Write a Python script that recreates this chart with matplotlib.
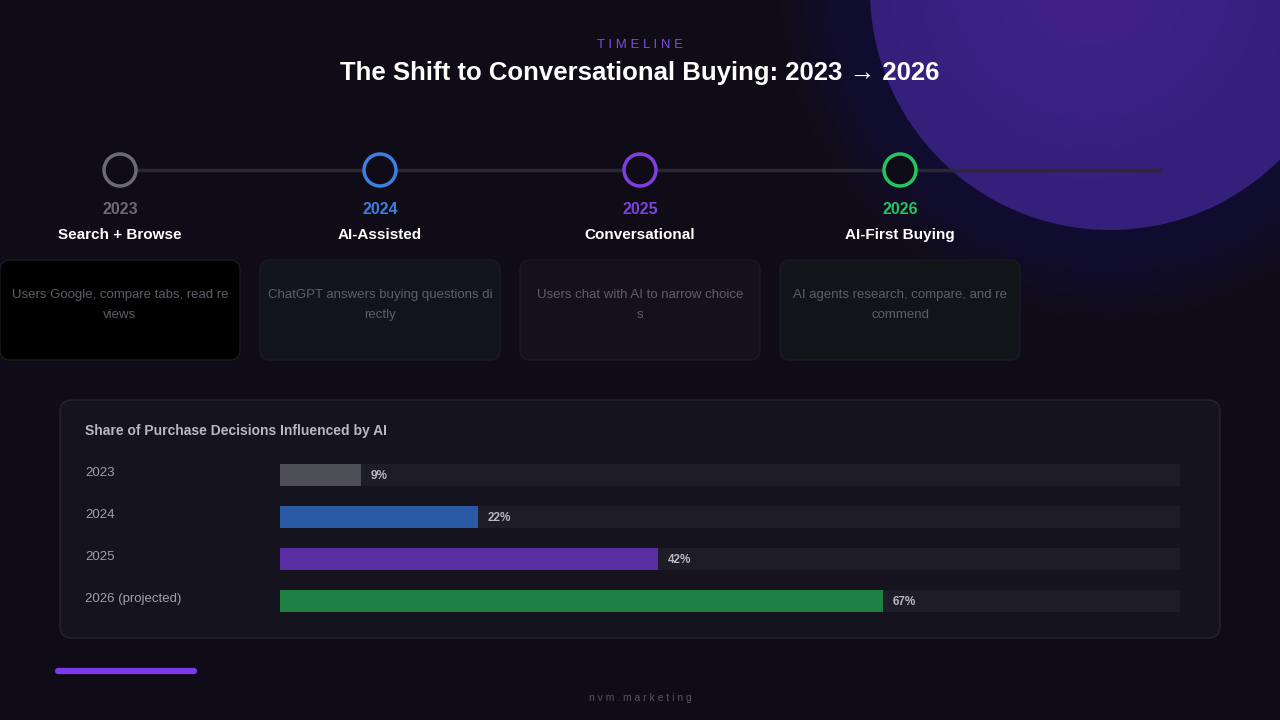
import matplotlib
matplotlib.use("Agg")
import matplotlib.pyplot as plt
from matplotlib.patches import FancyBboxPatch, Circle
import numpy as np

plt.rcParams['font.family'] = ['Liberation Sans', 'DejaVu Sans']

years = ["2023", "2024", "2025", "2026"]
stages = ["Search + Browse", "AI-Assisted", "Conversational", "AI-First Buying"]
descs = ["Users Google, compare tabs, read re\nviews",
         "ChatGPT answers buying questions di\nrectly",
         "Users chat with AI to narrow choice\ns",
         "AI agents research, compare, and re\ncommend"]
node_colors = ["#6b6b73", "#3d7fe0", "#8040e0", "#22c55e"]
card_fills = ["#000000", "#11131d", "#14111d", "#111519"]

bar_labels = ["2023", "2024", "2025", "2026 (projected)"]
bar_values = [9, 22, 42, 67]
bar_colors = ["#4d4d55", "#2b5aa5", "#5a2ea3", "#1f8045"]

BG = "#0f0c17"
fig = plt.figure(figsize=(12.8, 7.2), dpi=100, facecolor=BG)
ax = fig.add_axes([0, 0, 1, 1])
ax.set_xlim(0, 1280); ax.set_ylim(720, 0); ax.axis('off')
ax.set_facecolor(BG)

# purple glow circle
for r in range(330, 240, -6):
    ax.add_patch(Circle((1110, -10), r, color="#3a2080", alpha=0.025, lw=0))
ax.add_patch(Circle((1110, -10), 240, color="#34207a", lw=0))
for r in range(200, 60, -15):
    ax.add_patch(Circle((1090, -20), r, color="#4a2a98", alpha=0.08, lw=0))

ax.text(640, 45, "T I M E L I N E", color="#7c4ddb", fontsize=9.5, ha='center', va='center')
ax.text(640, 73, "The Shift to Conversational Buying: 2023 → 2026", color="white",
        fontsize=18.5, fontweight='bold', ha='center', va='center',
        family=['DejaVu Sans'] if False else ['Liberation Sans', 'DejaVu Sans'])

xs = [120, 380, 640, 900]
ax.plot([120, 1160], [170, 170], color="#2a2833", lw=2.5, zorder=1)
for x, yr, st, d, nc, cf in zip(xs, years, stages, descs, node_colors, card_fills):
    ax.add_patch(Circle((x, 170), 16, facecolor=BG, edgecolor=nc, lw=2.5, zorder=3))
    ax.text(x, 210, yr, color=nc, fontsize=11.5, fontweight='bold', ha='center', va='center')
    ax.text(x, 235, st, color="white", fontsize=11, fontweight='bold', ha='center', va='center')
    ax.add_patch(FancyBboxPatch((x - 116, 264), 232, 92, boxstyle="round,pad=4,rounding_size=10",
                                facecolor=cf, edgecolor="#1a1a24", lw=1))
    ax.text(x, 305, d, color="#5e5e68", fontsize=9.5, ha='center', va='center', linespacing=1.9)

# panel
ax.add_patch(FancyBboxPatch((64, 404), 1152, 230, boxstyle="round,pad=4,rounding_size=12",
                            facecolor="#15131d", edgecolor="#25232d", lw=1))
ax.text(85, 431, "Share of Purchase Decisions Influenced by AI", color="#b8b8c0",
        fontsize=10, fontweight='bold', ha='left', va='center')

ys = [475, 517, 559, 601]
for y, lab in zip(ys, bar_labels):
    ax.text(85, y - 2, lab, color="#a0a0aa", fontsize=9.5, ha='left', va='center')

bax = fig.add_axes([280/1280, 1 - 622/720, 900/1280, (622 - 454)/720])
bax.set_xlim(0, 100); bax.set_ylim(3.5, -0.5); bax.axis('off')
pos = np.arange(len(bar_values))
bax.barh(pos, [100]*4, height=0.52, color="#1e1c26")
bax.barh(pos, bar_values, height=0.52, color=bar_colors)
for p, v in zip(pos, bar_values):
    bax.text(v + 1.1, p + 0.03, f"{v}%", color="#b8b8c0", fontsize=8.5, fontweight='bold',
             va='center', ha='left')

ax.plot([58, 194], [671, 671], color="#7c3aed", lw=4.5, solid_capstyle='round')
ax.text(640, 698, "n v m . m a r k e t i n g", color="#55555f", fontsize=7.5, ha='center', va='center')

fig.savefig("out.png", dpi=100, facecolor=BG)
